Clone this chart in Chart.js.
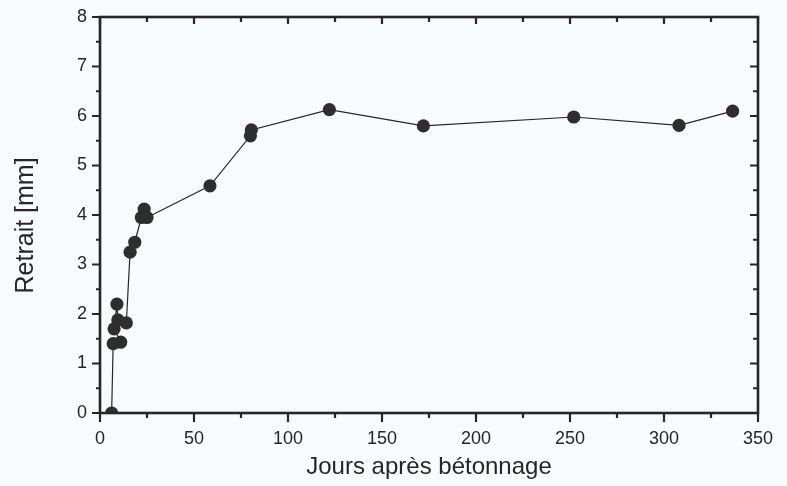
<!DOCTYPE html>
<html>
<head>
<meta charset="utf-8">
<script src="https://cdn.jsdelivr.net/npm/chart.js@4.4.0/dist/chart.umd.min.js"></script>
<style>
html, body { margin: 0; padding: 0; background: #f8fbfb; }
#wrap { width: 787px; height: 486px; }
</style>
</head>
<body>
<div id="wrap"><canvas id="chart"></canvas></div>
<script>
// jours apres betonnage / retrait mesure (mm), in the order the line joins them
const jours   = [6.2, 7, 11, 7.5, 9, 9.5, 14, 16, 18.5, 22, 23.5, 25, 58.5, 80, 80.5, 122, 172, 252, 308, 336.5]
const retrait = [0, 1.4, 1.43, 1.7, 2.2, 1.88, 1.82, 3.25, 3.45, 3.95, 4.12, 3.95, 4.59, 5.6, 5.72, 6.13, 5.8, 5.98, 5.81, 6.1]

const xTicks = [0, 50, 100, 150, 200, 250, 300, 350]
const yTicks = [0, 1, 2, 3, 4, 5, 6, 7, 8]

const ink = '#262626'
const font = 'Liberation Sans, Arial, Helvetica, sans-serif'

// frame + tick marks (major and minor) on the four sides
const frame = {
    id: 'frame',
    afterDraw(chart) {
        const { ctx, chartArea: a, scales: { x, y } } = chart
        ctx.save()
        ctx.strokeStyle = ink
        ctx.lineWidth = 2.2
        ctx.beginPath()
        for (let i = 0; i < xTicks.length; i++) {
            const v = xTicks[i]
            const px = x.getPixelForValue(v)
            ctx.moveTo(px, a.bottom); ctx.lineTo(px, a.bottom + 9)
            ctx.moveTo(px, a.top); ctx.lineTo(px, a.top + 7)
            if (i < xTicks.length - 1) {
                const pm = x.getPixelForValue(v + 25)
                ctx.moveTo(pm, a.bottom); ctx.lineTo(pm, a.bottom + 5)
                ctx.moveTo(pm, a.top); ctx.lineTo(pm, a.top + 5)
            }
        }
        for (let i = 0; i < yTicks.length; i++) {
            const v = yTicks[i]
            const py = y.getPixelForValue(v)
            ctx.moveTo(a.left, py); ctx.lineTo(a.left - 8, py)
            ctx.moveTo(a.right, py); ctx.lineTo(a.right - 8, py)
            if (i < yTicks.length - 1) {
                const pm = y.getPixelForValue(v + 0.5)
                ctx.moveTo(a.left, pm); ctx.lineTo(a.left - 4, pm)
                ctx.moveTo(a.right, pm); ctx.lineTo(a.right - 5, pm)
            }
        }
        ctx.stroke()
        ctx.lineWidth = 2.6
        ctx.strokeRect(a.left, a.top, a.right - a.left, a.bottom - a.top)
        ctx.restore()
    }
}

new Chart(document.getElementById('chart'), {
    type: 'line',
    data: {
        datasets: [{
            data: jours.map((j, i) => ({ x: j, y: retrait[i] })),
            borderColor: ink,
            borderWidth: 1.2,
            pointRadius: 6.6,
            pointBackgroundColor: '#2e2e2e',
            pointBorderColor: '#2e2e2e',
            pointBorderWidth: 0,
            tension: 0,
        }]
    },
    options: {
        responsive: true,
        maintainAspectRatio: false,
        animation: false,
        layout: { padding: { top: 17, right: 29, left: 0, bottom: 0 } },
        plugins: {
            legend: { display: false },
            tooltip: { enabled: false },
        },
        scales: {
            x: {
                type: 'linear',
                min: 0,
                max: 350,
                afterFit: (s) => { s.height = 73; s.paddingLeft = 0; s.paddingRight = 0 },
                afterBuildTicks: (s) => { s.ticks = xTicks.map(v => ({ value: v })) },
                grid: { display: false, drawTicks: false },
                border: { display: false },
                ticks: { color: ink, padding: 15, maxRotation: 0, font: { family: font, size: 18 } },
                title: {
                    display: true,
                    text: 'Jours après bétonnage',
                    color: ink,
                    padding: { top: 8, bottom: 4 },
                    font: { family: font, size: 24 },
                },
            },
            y: {
                min: 0,
                max: 8,
                afterFit: (s) => { s.width = 100; s.paddingTop = 0; s.paddingBottom = 0 },
                afterBuildTicks: (s) => { s.ticks = yTicks.map(v => ({ value: v })) },
                grid: { display: false, drawTicks: false },
                border: { display: false },
                ticks: { color: ink, padding: 13, font: { family: font, size: 18 } },
                title: {
                    display: true,
                    text: 'Retrait [mm]\u00a0\u00a0\u00a0',
                    color: ink,
                    padding: { top: 11, bottom: 0 },
                    font: { family: font, size: 25 },
                },
            },
        },
    },
    plugins: [frame],
})
</script>
</body>
</html>
